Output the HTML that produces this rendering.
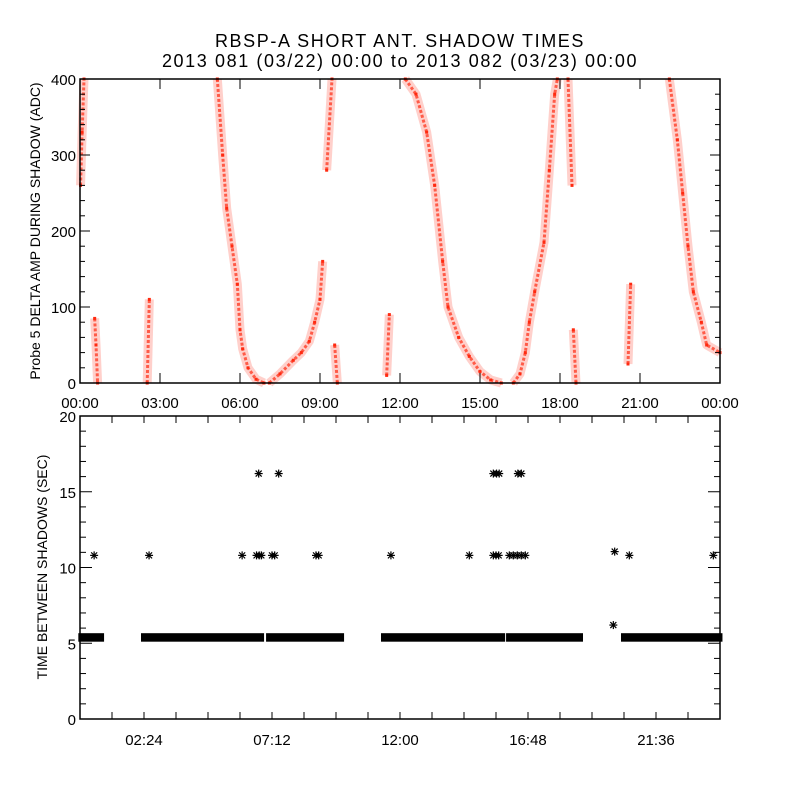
<!DOCTYPE html>
<html><head><meta charset="utf-8"><style>
body{margin:0;background:#fff;}
svg text{font-family:"Liberation Sans",sans-serif;fill:#000;}
</style></head><body>
<svg id="chart" width="800" height="800" viewBox="0 0 800 800" xmlns="http://www.w3.org/2000/svg">
<rect width="800" height="800" fill="#fff"/>
<text x="400" y="47" font-size="18" letter-spacing="1.6" text-anchor="middle">RBSP-A SHORT ANT. SHADOW TIMES</text>
<text x="400" y="67" font-size="18" letter-spacing="1.6" text-anchor="middle">2013 081 (03/22) 00:00 to 2013 082 (03/23) 00:00</text>
<text transform="translate(40,231) rotate(-90)" font-size="14" text-anchor="middle">Probe 5 DELTA AMP DURING SHADOW (ADC)</text>
<text transform="translate(47,567) rotate(-90)" font-size="14" text-anchor="middle">TIME BETWEEN SHADOWS (SEC)</text>
<g id="topPanel"></g>
<g id="botPanel"></g>
</svg>
<script>
// ---- top panel data: segments of [hour, ADC] ----
const segA = [[0.02,260],[0.08,330],[0.15,400]];
const segB = [[0.55,85],[0.6,50],[0.66,0]];
const segC = [[2.52,0],[2.6,110]];
const segD = [[5.15,400],[5.35,300],[5.5,230],[5.7,180],[5.9,130],[6.0,70],[6.1,45],[6.3,20],[6.6,5],[6.9,0]];
const segE = [[7.1,0],[7.5,12],[8.0,30],[8.3,40],[8.6,55],[8.8,80],[9.0,110],[9.1,160]];
const segF = [[9.25,280],[9.45,400]];
const segF2 = [[9.55,50],[9.65,0]];
const segG = [[11.5,10],[11.6,90]];
const segH = [[12.2,400],[12.6,380],[13.0,330],[13.3,260],[13.6,160],[13.8,100],[14.2,60],[14.6,35],[15.0,15],[15.4,4],[15.8,0]];
const segI = [[16.25,0],[16.5,12],[16.7,40],[16.85,80],[17.05,120],[17.4,185],[17.6,280],[17.8,380],[17.9,400]];
const segJ = [[18.3,400],[18.45,260]];
const segJ2 = [[18.5,70],[18.6,0]];
const segK = [[20.55,25],[20.65,130]];
const segL = [[22.1,400],[22.4,320],[22.6,250],[22.8,180],[23.0,120],[23.3,80],[23.5,50],[24,40]];
const topSegments = [segA,segB,segC,segD,segE,segF,segF2,segG,segH,segI,segJ,segJ2,segK,segL];
const topYTicks = [0,100,200,300,400];
const topXTicks = [0,3,6,9,12,15,18,21,24];
const topXLabels = ["00:00","03:00","06:00","09:00","12:00","15:00","18:00","21:00","00:00"];
// ---- bottom panel data ----
const bandRanges = [[0.05,0.79,5.4],[2.4,6.79,5.4],[7.09,9.79,5.4],[11.4,15.83,5.4],[16.09,18.75,5.4],[20.4,23.98,5.4]];
const starPts = [[0.53,10.8],[2.59,10.8],[6.08,10.8],[6.62,10.8],[6.72,10.8],[6.8,10.8],[7.2,10.8],[7.3,10.8],[8.85,10.8],[8.95,10.8],
 [11.66,10.8],[14.6,10.8],[15.5,10.8],[15.6,10.8],[15.7,10.8],[16.1,10.8],[16.25,10.8],[16.4,10.8],[16.55,10.8],[16.7,10.8],[20.6,10.8],[23.75,10.8],
 [6.7,16.2],[7.45,16.2],[15.5,16.2],[15.62,16.2],[15.72,16.2],[16.42,16.2],[16.55,16.2],[20.05,11.05],[20.0,6.2]];
const botYTicks = [0,5,10,15,20];
const botXTicks = [2.4,7.2,12,16.8,21.6];
const botXLabels = ["02:24","07:12","12:00","16:48","21:36"];

const NS="http://www.w3.org/2000/svg";
const L=80,R=720;
const T1=79,B1=383,T2=416,B2=719;
const xs=h=>L+h/24*(R-L);
const y1=v=>B1-v/400*(B1-T1);
const y2=v=>B2-v/20*(B2-T2);
function mk(parent,tag,attrs){const e=document.createElementNS(NS,tag);for(const k in attrs)e.setAttribute(k,attrs[k]);parent.appendChild(e);return e;}
const topG=document.getElementById('topPanel'), botG=document.getElementById('botPanel');

// top series
topSegments.forEach((seg,i)=>{
  const pts=seg.map(d=>xs(d[0])+','+y1(d[1])).join(' ');
  const halo=mk(topG,'polyline',{points:pts,fill:'none',stroke:'#ff2a10','stroke-width':9,'stroke-opacity':0.22,'stroke-linejoin':'round'});
  
  
  const p=mk(topG,'polyline',{points:pts,fill:'none',stroke:'#ff2a10','stroke-width':3,'stroke-opacity':0.7,'stroke-linejoin':'round','stroke-dasharray':'3 2'});
  
  
  seg.forEach(d=>{
    const r=mk(topG,'rect',{x:xs(d[0])-1.5,y:y1(d[1])-1.5,width:3,height:3,fill:'#ff2a10'});
    
    
  });
});
// top frame & ticks
const f1=mk(topG,'rect',{x:L,y:T1,width:R-L,height:B1-T1,fill:'none',stroke:'#000','stroke-width':1.5});


for(let v=0;v<=400;v+=20){const len=v%100===0?10:5;
  mk(topG,'line',{x1:L,x2:L+len,y1:y1(v),y2:y1(v),stroke:'#000'});
  mk(topG,'line',{x1:R,x2:R-len,y1:y1(v),y2:y1(v),stroke:'#000'});}
topYTicks.forEach(v=>{const t=mk(topG,'text',{x:L-4,y:y1(v)+6,'font-size':15,'text-anchor':'end'});t.textContent=v;
  
  });
topXTicks.forEach((h,i)=>{
  mk(topG,'line',{x1:xs(h),x2:xs(h),y1:B1,y2:B1-10,stroke:'#000'});
  mk(topG,'line',{x1:xs(h),x2:xs(h),y1:T1,y2:T1+10,stroke:'#000'});
  const t=mk(topG,'text',{x:xs(h),y:408,'font-size':15,'text-anchor':'middle'});t.textContent=topXLabels[i];
  
  });

// bottom series
function star(cx,cy){const g=mk(botG,'g',{stroke:'#000','stroke-width':1.2});
  mk(g,'line',{x1:cx-4,x2:cx+4,y1:cy,y2:cy});mk(g,'line',{x1:cx,x2:cx,y1:cy-4,y2:cy+4});
  mk(g,'line',{x1:cx-3,x2:cx+3,y1:cy-3,y2:cy+3});mk(g,'line',{x1:cx-3,x2:cx+3,y1:cy+3,y2:cy-3});return g;}
bandRanges.forEach(b=>{
  const r=mk(botG,'rect',{x:xs(b[0])-3,y:y2(b[2])-4,width:xs(b[1])-xs(b[0])+6,height:8.5,fill:'#000'});
  
  
});
starPts.forEach(d=>{const g=star(xs(d[0]),y2(d[1]));
  
  });
const f2=mk(botG,'rect',{x:L,y:T2,width:R-L,height:B2-T2,fill:'none',stroke:'#000','stroke-width':1.5});


for(let v=0;v<=20;v+=1){const len=v%5===0?12:6;
  mk(botG,'line',{x1:L,x2:L+len,y1:y2(v),y2:y2(v),stroke:'#000'});
  mk(botG,'line',{x1:R,x2:R-len,y1:y2(v),y2:y2(v),stroke:'#000'});}
botYTicks.forEach(v=>{const t=mk(botG,'text',{x:L-4,y:y2(v)+6,'font-size':15,'text-anchor':'end'});t.textContent=v;
  
  });
for(let h=1.2;h<24;h+=1.2){
  mk(botG,'line',{x1:xs(h),x2:xs(h),y1:B2,y2:B2-7,stroke:'#000'});
  mk(botG,'line',{x1:xs(h),x2:xs(h),y1:T2,y2:T2+7,stroke:'#000'});}
botXTicks.forEach((h,i)=>{const t=mk(botG,'text',{x:xs(h),y:745,'font-size':15,'text-anchor':'middle'});t.textContent=botXLabels[i];
  
  });
</script>
</body></html>
